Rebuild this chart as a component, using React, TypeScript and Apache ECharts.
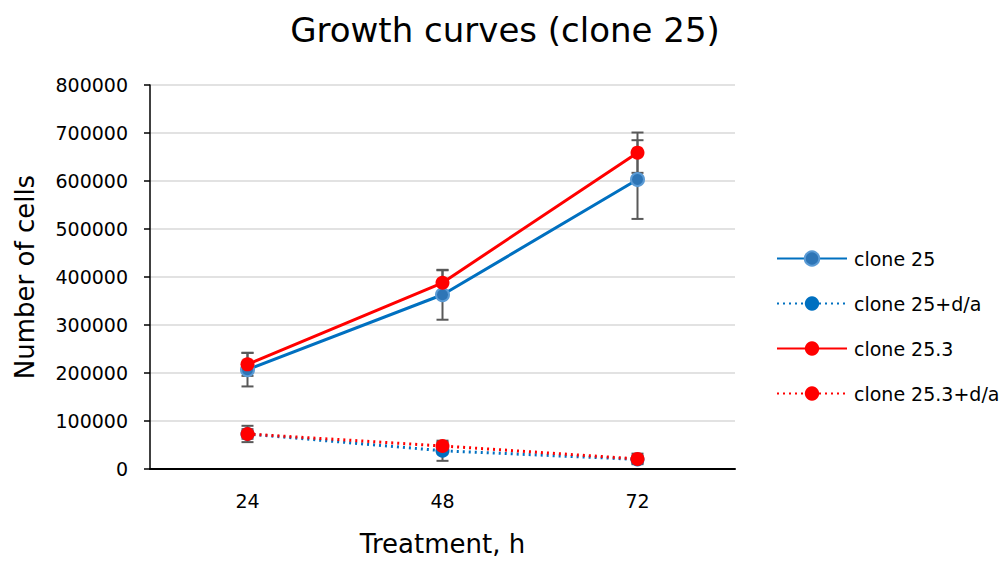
import React, { useEffect, useRef } from "react";
import * as echarts from "echarts";

const categories = ["24", "48", "72"];
const clone25 = [207000, 363000, 603000];
const clone25Err = [35000, 52000, 82000];
const clone25da = [73000, 38000, 20000];
const clone25daErr = [17000, 21000, 8000];
const clone253 = [218000, 388000, 659000];
const clone253Err = [24000, 26000, 42000];
const clone253da = [73000, 48000, 21000];
const clone253daErr = [10000, 8000, 11000];

const FONT = "DejaVu Sans";
const BLUE = "#0070C0";
const RED = "#FF0000";
const ERR = "#595959";

function errSeries(name: string, vals: number[], errs: number[]) {
  const data = vals.map((v, i) => [i, v - errs[i], v + errs[i]]);
  return {
    type: "custom",
    name,
    z: 1,
    silent: true,
    renderItem: (params: any, api: any) => {
      const x = api.value(0);
      const lo = api.coord([x, api.value(1)]);
      const hi = api.coord([x, api.value(2)]);
      const w = 6;
      const style = { stroke: ERR, lineWidth: 2 };
      return {
        type: "group",
        children: [
          { type: "line", shape: { x1: lo[0], y1: lo[1], x2: hi[0], y2: hi[1] }, style },
          { type: "line", shape: { x1: lo[0] - w, y1: lo[1], x2: lo[0] + w, y2: lo[1] }, style },
          { type: "line", shape: { x1: hi[0] - w, y1: hi[1], x2: hi[0] + w, y2: hi[1] }, style },
        ],
      };
    },
    data,
  };
}

export default function App() {
  const ref = useRef<HTMLDivElement>(null);
  useEffect(() => {
    const chart = echarts.init(ref.current!, null, { renderer: "svg" });
    chart.setOption({
      animation: false,
      backgroundColor: "#ffffff",
      textStyle: { fontFamily: FONT },
      title: {
        text: "Growth curves (clone 25)",
        left: 500,
        textAlign: "center",
        top: 8,
        textStyle: { fontFamily: FONT, fontSize: 34, fontWeight: "normal", color: "#000" },
      },
      grid: { left: 150, right: 266, top: 85, bottom: 92 },
      legend: {
        orient: "vertical",
        left: 776,
        top: 249,
        padding: 0,
        itemWidth: 70,
        itemHeight: 18,
        itemGap: 26,
        textStyle: { fontFamily: FONT, fontSize: 19, color: "#000", padding: [0, 0, 0, 2] },
        data: ["clone 25", "clone 25+d/a", "clone 25.3", "clone 25.3+d/a"],
      },
      xAxis: {
        type: "category",
        data: categories,
        boundaryGap: true,
        axisLine: { lineStyle: { color: "#000", width: 2 } },
        axisTick: { show: false },
        axisLabel: { fontFamily: FONT, fontSize: 19, color: "#000", margin: 22 },
        name: "Treatment, h",
        nameLocation: "middle",
        nameGap: 62,
        nameTextStyle: { fontFamily: FONT, fontSize: 26, color: "#000" },
      },
      yAxis: {
        type: "value",
        min: 0,
        max: 800000,
        interval: 100000,
        axisLine: { show: true, lineStyle: { color: "#000", width: 1.5 } },
        axisTick: { show: true, length: 6, lineStyle: { color: "#000", width: 1.5 } },
        splitLine: { lineStyle: { color: "#D9D9D9", width: 1.5 } },
        axisLabel: {
          fontFamily: FONT,
          fontSize: 19,
          color: "#000",
          margin: 22,
          formatter: (v: number) => String(v),
        },
        name: "Number of cells",
        nameLocation: "middle",
        nameGap: 112,
        nameTextStyle: { fontFamily: FONT, fontSize: 26, color: "#000" },
      },
      series: [
        errSeries("e1", clone25, clone25Err),
        errSeries("e2", clone25da, clone25daErr),
        errSeries("e3", clone253, clone253Err),
        errSeries("e4", clone253da, clone253daErr),
        {
          type: "line",
          name: "clone 25",
          data: clone25,
          z: 3,
          symbol: "circle",
          symbolSize: 13,
          lineStyle: { color: BLUE, width: 3 },
          itemStyle: { color: "#2E75B6", borderColor: "#5B9BD5", borderWidth: 2 },
        },
        {
          type: "line",
          name: "clone 25+d/a",
          data: clone25da,
          z: 3,
          symbol: "circle",
          symbolSize: 14,
          lineStyle: { color: BLUE, width: 3, type: [2, 4] },
          itemStyle: { color: BLUE },
        },
        {
          type: "line",
          name: "clone 25.3",
          data: clone253,
          z: 4,
          symbol: "circle",
          symbolSize: 14,
          lineStyle: { color: RED, width: 3 },
          itemStyle: { color: RED },
        },
        {
          type: "line",
          name: "clone 25.3+d/a",
          data: clone253da,
          z: 4,
          symbol: "circle",
          symbolSize: 14,
          lineStyle: { color: RED, width: 3, type: [2, 4] },
          itemStyle: { color: RED },
        },
      ],
    });
    return () => chart.dispose();
  }, []);
  return <div ref={ref} style={{ width: 1001, height: 562, position: "absolute", left: 0, top: 0 }} />;
}
